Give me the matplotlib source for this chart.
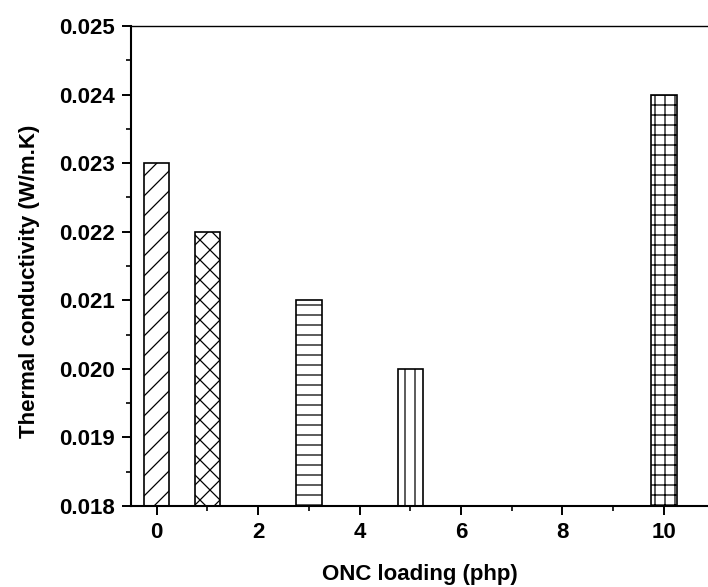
import numpy as np
import matplotlib
matplotlib.use('Agg')
import matplotlib.pyplot as plt
from matplotlib.ticker import MultipleLocator, FormatStrFormatter

# hatch spacing follows dpi, so render at 120 dpi and scale point sizes down
DPI = 120
k = 100.0 / DPI

plt.rcParams['font.family'] = ['Liberation Sans', 'DejaVu Sans']
plt.rcParams['font.weight'] = 'bold'
plt.rcParams['hatch.linewidth'] = 0.9 * k

# data
loading = [0, 1, 3, 5, 10]
conductivity = [0.023, 0.022, 0.021, 0.020, 0.024]
hatches = ['//', 'xx', '--', '||', '++']

fig = plt.figure(figsize=(708 / DPI, 587 / DPI), dpi=DPI)
ax = fig.add_axes([0.185, 0.138, 0.815, 0.8177])

for x, y, h in zip(loading, conductivity, hatches):
    ax.bar(x, y - 0.018, bottom=0.018, width=0.5, facecolor='white',
           edgecolor='black', linewidth=1.2 * k, hatch=h)

ax.set_xlim(-0.507, 10.87)
ax.set_ylim(0.018, 0.025)
ax.set_xticks([0, 2, 4, 6, 8, 10])
ax.xaxis.set_minor_locator(MultipleLocator(1))
ax.yaxis.set_major_locator(MultipleLocator(0.001))
ax.yaxis.set_minor_locator(MultipleLocator(0.0005))
ax.yaxis.set_major_formatter(FormatStrFormatter('%.3f'))

ax.spines['right'].set_visible(False)
for s in ['left', 'bottom']:
    ax.spines[s].set_linewidth(1.5 * k)
ax.spines['top'].set_linewidth(1.0 * k)

ax.tick_params(axis='both', which='major', direction='out', length=6.5 * k,
               width=1.4 * k, labelsize=16 * k, pad=5 * k)
ax.tick_params(axis='both', which='minor', direction='out', length=3.6 * k,
               width=1.2 * k)
ax.tick_params(top=False, right=False, which='both')

ax.set_xlabel('ONC loading (php)', fontsize=16 * k, fontweight='bold',
              labelpad=15 * k)
ax.set_ylabel('Thermal conductivity (W/m.K)', fontsize=16 * k, fontweight='bold',
              labelpad=14 * k)
ax.yaxis.label.set_y(0.469)

fig.savefig('out.png', dpi=DPI)
